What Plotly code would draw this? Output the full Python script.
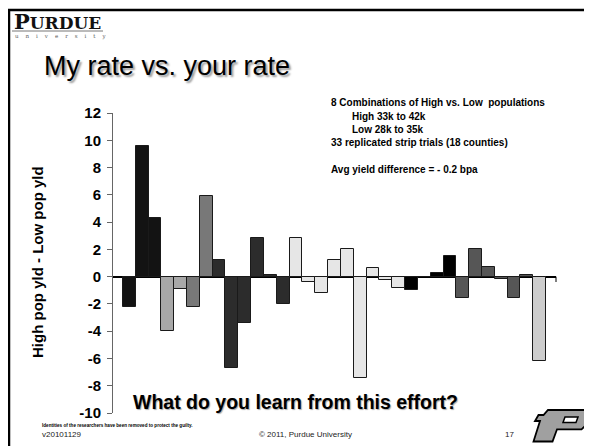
import plotly.graph_objects as go

# one bar per strip trial, grouped by high/low population combination
trials = list(range(1, 34))
yield_diff = [-2.2, 9.6, 4.3, -4.0, -0.9, -2.2, 5.9, 1.2, -6.7, -3.4, 2.85,
              0.15, -2.0, 2.85, -0.4, -1.2, 1.2, 2.0, -7.4, 0.6, -0.25, -0.85,
              -1.0, 0.0, 0.3, 1.5, -1.6, 2.0, 0.7, -0.2, -1.6, 0.15, -6.2]
combo = ["A"] * 3 + ["B"] * 2 + ["C"] * 2 + ["D"] * 6 + ["E"] * 9 + \
        ["F"] * 4 + ["G"] * 6 + ["H"]
combo_names = ["A", "B", "C", "D", "E", "F", "G", "H"]

tick_vals = [-10, -8, -6, -4, -2, 0, 2, 4, 6, 8, 10, 12]
tick_text = ["-10", "-8", "-6", "-4", "-2", "0", "2", "4", "6", "8", "10", "12"]

notes = ["8 Combinations of High vs. Low  populations",
         "High 33k to 42k",
         "Low 28k to 35k",
         "33 replicated strip trials (18 counties)",
         "Avg yield difference = - 0.2 bpa"]

combo_colors = {"A": "#131313", "B": "#a8a8a8", "C": "#787878", "D": "#2c2c2c",
                "E": "#e6e6e6", "F": "#000000", "G": "#565656", "H": "#cdcdcd"}

# page body has an 8px margin, so the figure starts at (8, 8) in the window
OFF = 8
W, H = 592 - OFF, 446 - OFF
L, R, T, B = 113 - OFF, 36, 113 - OFF, 33
PW, PH = W - L - R, H - T - B


def px(x):
    # window pixel -> paper x
    return (x - OFF - L) / PW


def py(y):
    # window pixel -> paper y
    return (H - B - (y - OFF)) / PH


fig = go.Figure()
for c in combo_names:
    xs = [t for t, g in zip(trials, combo) if g == c]
    ys = [v for v, g in zip(yield_diff, combo) if g == c]
    fig.add_trace(go.Bar(
        x=xs, y=ys, showlegend=False,
        marker=dict(color=combo_colors[c], line=dict(color="#1a1a1a", width=1)),
    ))

arial = "Arial, Liberation Sans, sans-serif"

fig.update_layout(
    width=W, height=H,
    margin=dict(l=L, r=R, t=T, b=B),
    paper_bgcolor="white", plot_bgcolor="white",
    bargap=0, barmode="overlay",
    font=dict(family=arial, color="black"),
    xaxis=dict(visible=False, range=[0.5 - 0.77, 33.5 + 0.77]),
    yaxis=dict(
        range=[-10, 12], tickvals=tick_vals, ticktext=tick_text,
        showgrid=False, showline=True, linecolor="#666", linewidth=1,
        ticks="outside", ticklen=5, tickcolor="#666", ticklabelstandoff=3,
        tickfont=dict(family=arial, size=15, color="black", weight="bold"),
        zeroline=True, zerolinecolor="black", zerolinewidth=1.5,
    ),
)


def note(x, y, text, size, xanchor="left", color="black", **kw):
    return dict(x=px(x), y=py(y), xref="paper", yref="paper", text=text,
                xanchor=xanchor, yanchor="middle", showarrow=False,
                font=dict(family=kw.pop("family", arial), size=size, color=color,
                          shadow=kw.pop("shadow", "none")), **kw)


ann = []
ann.append(note(42, 66, "My rate vs. your rate", 27, shadow="2px 2px 2px #9a9a9a"))
ann.append(note(37, 262, "<b>High pop yld - Low pop yld</b>", 15, xanchor="center",
                textangle=-90))
note_pos = [(329, 103), (350, 116), (350, 129), (329, 142), (329, 169)]
for txt, (nx, ny) in zip(notes, note_pos):
    ann.append(note(nx, ny, "<b>" + txt + "</b>", 10))
ann.append(note(131, 402, "<b>What do you learn from this effort?</b>", 19.5,
                shadow="1px 1px 1px #aaaaaa"))
ann.append(note(40, 425, "<b>Identities of the researchers have been removed to protect the guilty.</b>", 4.6))
ann.append(note(40, 434, "v20101129", 8, color="#222"))
ann.append(note(305, 434, "© 2011, Purdue University", 8, xanchor="center", color="#222"))
ann.append(note(509, 434, "17", 8, xanchor="center", color="#222"))
# Purdue wordmark
ann.append(note(12, 21, "<b>P<span style='font-size:17px'>URDUE</span></b>", 21,
                color="#111", family="DejaVu Serif, serif"))
sp = "&nbsp;" * 4
ann.append(note(13, 36, sp.join("university"), 5.5, color="#555",
                family="DejaVu Serif, serif"))
fig.update_layout(annotations=ann)


def path(points):
    s = "M " + " L ".join(f"{px(a):.4f},{py(b):.4f}" for a, b in points)
    return s + " Z"


def pline(x0, y0, x1, y1, color, width):
    return dict(type="line", xref="paper", yref="paper", x0=px(x0), x1=px(x1),
                y0=py(y0), y1=py(y1), line=dict(color=color, width=width))


shapes = [
    # slide frame
    pline(8, 10, 600, 10, "black", 2.5),
    pline(9, 10, 9, 450, "black", 2.5),
    # wordmark underline
    pline(12, 31, 103, 31, "#777", 1),
    # motion P logo
    dict(type="path", xref="paper", yref="paper",
         path=path([(548, 410), (587, 410), (589.5, 413), (585, 426), (581.5, 429.3),
                    (557, 429.3), (552.5, 441.5), (533.5, 441.5), (540, 421), (535, 421),
                    (538.5, 415), (543.5, 415)]),
         fillcolor="#a0a0a0", line=dict(color="black", width=1.8)),
    dict(type="path", xref="paper", yref="paper",
         path=path([(565, 417), (578, 417), (576, 422.5), (563, 422.5)]),
         fillcolor="white", line=dict(color="black", width=1.5)),
    # tick at right end of the category axis
    pline(556, 276.7, 556, 282, "black", 1),
]
fig.update_layout(shapes=shapes)

fig.write_html("out.html")
